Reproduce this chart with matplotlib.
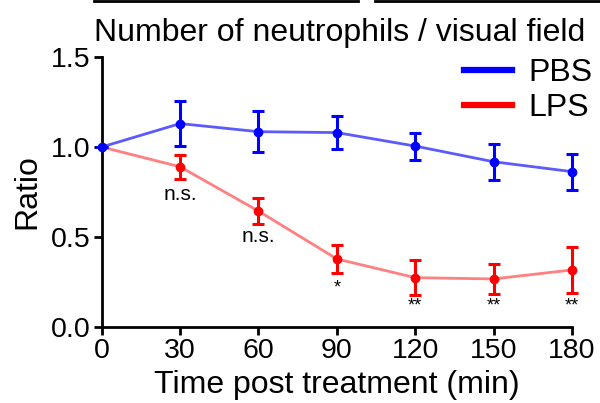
import matplotlib
matplotlib.use("Agg")
import matplotlib.pyplot as plt
from matplotlib.lines import Line2D

plt.rcParams['font.family'] = ['Liberation Sans', 'DejaVu Sans']

# data
time = [0, 30, 60, 90, 120, 150, 180]
pbs = [1.0, 1.13, 1.085, 1.08, 1.005, 0.918, 0.863]
pbs_err = [0.0, 0.125, 0.115, 0.09, 0.075, 0.1, 0.1]
lps = [1.0, 0.89, 0.644, 0.378, 0.274, 0.267, 0.317]
lps_err = [0.0, 0.068, 0.074, 0.08, 0.096, 0.085, 0.13]
signif = ["", "n.s.", "n.s.", "*", "**", "**", "**"]
sig_y = [0, 0.735, 0.50, 0.215, 0.115, 0.115, 0.115]

fig = plt.figure(figsize=(6, 4.03), dpi=100)
ax = fig.add_axes([0.1695, 0.1886, 0.7838, 0.67])

# connecting lines (lighter)
ax.plot(time, lps, color='#ff8080', lw=2, zorder=2, clip_on=False)
ax.plot(time, pbs, color='#5a5aff', lw=2, zorder=2, clip_on=False)

# points + error bars
for c in ax.errorbar(time[1:], lps[1:], yerr=lps_err[1:], fmt='o', color='red', ms=6,
                     elinewidth=2.2, capsize=4, capthick=2.2, zorder=3).get_children():
    c.set_clip_on(False)
for c in ax.errorbar(time, pbs, yerr=pbs_err, fmt='o', color='blue', ms=6,
                     elinewidth=2.2, capsize=4, capthick=2.2, zorder=4).get_children():
    c.set_clip_on(False)

for t, s, y in zip(time, signif, sig_y):
    if s:
        ax.text(t, y, s, ha='center', va='center', fontsize=15 if s == "n.s." else 13)

ax.set_xlim(0, 180)
ax.set_ylim(0, 1.5)
ax.set_xticks(time)
ax.set_yticks([0.0, 0.5, 1.0, 1.5])
ax.set_yticklabels(["0.0", "0.5", "1.0", "1.5"])
ax.tick_params(axis='both', labelsize=20.5, width=2, length=6, direction='out', pad=2)
for side in ['top', 'right']:
    ax.spines[side].set_visible(False)
for side in ['left', 'bottom']:
    ax.spines[side].set_linewidth(2)

ax.set_xlabel("Time post treatment (min)", fontsize=23, labelpad=4)
ax.set_ylabel("Ratio", fontsize=23, labelpad=6)
fig.text(0.157, 0.898, "Number of neutrophils / visual field", fontsize=23, ha='left', va='baseline')

handles = [Line2D([], [], color='blue', lw=4.5), Line2D([], [], color='red', lw=4.5)]
ax.legend(handles, ["PBS", "LPS"], loc='upper right', bbox_to_anchor=(0.987, 0.855),
          bbox_transform=fig.transFigure, frameon=False, fontsize=23,
          handlelength=1.5, handletextpad=0.5, labelspacing=0.15,
          borderaxespad=0, borderpad=0)

# bits of the neighbouring panel at the very top
fig.add_artist(Line2D([94 / 600, 358 / 600], [0.997, 0.997], color='black', lw=2))
fig.add_artist(Line2D([375 / 600, 1.0], [0.997, 0.997], color='black', lw=2))

fig.savefig("out.png", dpi=100)
